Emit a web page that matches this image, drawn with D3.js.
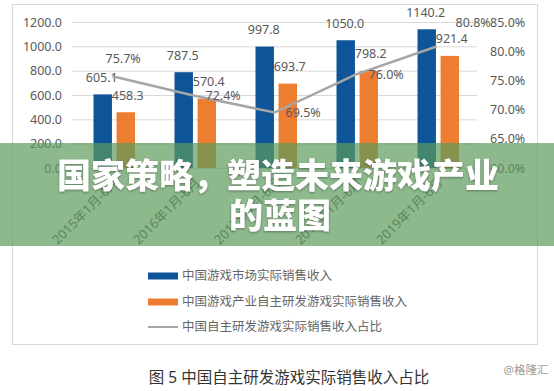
<!DOCTYPE html>
<html><head><meta charset="utf-8">
<script src="https://cdn.jsdelivr.net/npm/d3@7"></script>
<style>body{margin:0;background:#fff;} svg{display:block}</style>
</head><body><svg id="c" width="554" height="391"></svg>
<script>
const categories = ["2015年1月-6月","2016年1月-6月","2017年1月-6月","2018年1月-6月","2019年1月-6月"];
const marketRevenue = [605.1, 787.5, 997.8, 1050.0, 1140.2];
const selfDevRevenue = [458.3, 570.4, 693.7, 798.2, 921.4];
const selfDevShare = [75.7, 72.4, 69.5, 76.0, 80.8];
const leftTicks = [0, 200, 400, 600, 800, 1000, 1200];
const rightTicks = [60, 65, 70, 75, 80, 85];
const seriesNames = ["中国游戏市场实际销售收入", "中国游戏产业自主研发游戏实际销售收入", "中国自主研发游戏实际销售收入占比"];
const titleLines = ["国家策略，塑造未来游戏产业", "的蓝图"];
const caption = "图 5 中国自主研发游戏实际销售收入占比";
const credit = "@格隆汇";
// label nudges for the percentage labels (dx, dy from point)
const shareLabelShift = [[-7,-18],[12,0],[11,0],[13,0],[19,-24]];

const svg = d3.select("#c");
const FONT = "'Noto Sans','Noto Sans CJK SC',sans-serif";
const TXT = "#595959";
const BLUE = "#0e5499", ORANGE = "#ed7d31", GRAY = "#a6a6a6";

// outer frame
svg.append("rect").attr("x", 12.5).attr("y", 4.5).attr("width", 525).attr("height", 340)
  .attr("fill", "#fff").attr("stroke", "#d9d9d9").attr("stroke-width", 1);

const x = d3.scaleBand().domain(categories).range([72, 477]);
const x1 = d3.scaleBand().domain(["m", "s"]).range([21.5, 63]).paddingInner(0.2);
const y = d3.scaleLinear().domain([0, 1200]).range([168, 22]);
const y2 = d3.scaleLinear().domain([60, 85]).range([168, 22]);

// gridlines
svg.append("g").selectAll("line").data(leftTicks).join("line")
  .attr("x1", 72).attr("x2", 477).attr("y1", d => y(d) + 0.5).attr("y2", d => y(d) + 0.5)
  .attr("stroke", "#d9d9d9").attr("stroke-width", 1);

// left axis
const ga = svg.append("g").attr("transform", "translate(72,0)")
  .call(d3.axisLeft(y).tickValues(leftTicks).tickFormat(d => d.toFixed(1)).tickSize(0).tickPadding(10));
ga.select(".domain").remove();
ga.selectAll("text").attr("font-family", FONT).attr("font-size", 12.5).attr("fill", TXT);

// right axis
const gr = svg.append("g").attr("transform", "translate(477,0)")
  .call(d3.axisRight(y2).tickValues(rightTicks).tickFormat(d => d.toFixed(1) + "%").tickSize(0).tickPadding(13));
gr.select(".domain").remove();
gr.selectAll("text").attr("font-family", FONT).attr("font-size", 12.5).attr("fill", TXT);

// x axis labels
svg.append("g").selectAll("text").data(categories).join("text")
  .attr("transform", d => `translate(${x(d) + x.bandwidth() / 2 + 4},${180}) rotate(-45)`)
  .attr("text-anchor", "end").attr("dy", "0.35em")
  .attr("font-family", FONT).attr("font-size", 13).attr("fill", TXT).text(d => d);

// orange bars
svg.append("g").selectAll("rect").data(selfDevRevenue).join("rect")
  .attr("x", (d, i) => x(categories[i]) + x1("s")).attr("width", x1.bandwidth())
  .attr("y", d => y(d)).attr("height", d => y(0) - y(d)).attr("fill", ORANGE);
// orange labels (under blue bars)
svg.append("g").selectAll("text").data(selfDevRevenue).join("text")
  .attr("x", (d, i) => x(categories[i]) + x1("s") + x1.bandwidth() / 2 + 2)
  .attr("y", d => y(d) - 17).attr("dy", "0.35em").attr("text-anchor", "middle")
  .attr("font-family", FONT).attr("font-size", 12.5).attr("fill", TXT).text(d => d.toFixed(1));

// blue bars
svg.append("g").selectAll("rect").data(marketRevenue).join("rect")
  .attr("x", (d, i) => x(categories[i]) + x1("m")).attr("width", x1.bandwidth())
  .attr("y", d => y(d)).attr("height", d => y(0) - y(d)).attr("fill", BLUE);
svg.append("g").selectAll("text").data(marketRevenue).join("text")
  .attr("x", (d, i) => x(categories[i]) + x1("m") + x1.bandwidth() / 2 - 1)
  .attr("y", d => y(d) - 17).attr("dy", "0.35em").attr("text-anchor", "middle")
  .attr("font-family", FONT).attr("font-size", 12.5).attr("fill", TXT).text(d => d.toFixed(1));

// share line
const line = d3.line().x((d, i) => x(categories[i]) + x.bandwidth() / 2).y(d => y2(d));
svg.append("path").datum(selfDevShare).attr("d", line)
  .attr("fill", "none").attr("stroke", GRAY).attr("stroke-width", 2.5);
svg.append("g").selectAll("text").data(selfDevShare).join("text")
  .attr("x", (d, i) => x(categories[i]) + x.bandwidth() / 2 + shareLabelShift[i][0])
  .attr("y", (d, i) => y2(d) + shareLabelShift[i][1]).attr("dy", "0.35em")
  .attr("font-family", FONT).attr("font-size", 12.5).attr("fill", TXT).text(d => d.toFixed(1) + "%");

// legend
const legY = [276, 302, 327];
const lg = svg.append("g");
seriesNames.forEach((n, i) => {
  if (i < 2) lg.append("rect").attr("x", 148).attr("y", legY[i] - 3.5).attr("width", 30).attr("height", 7)
    .attr("fill", i === 0 ? BLUE : ORANGE);
  else lg.append("line").attr("x1", 148).attr("x2", 178).attr("y1", legY[i]).attr("y2", legY[i])
    .attr("stroke", GRAY).attr("stroke-width", 2);
  lg.append("text").attr("x", 182).attr("y", legY[i]).attr("dy", "0.35em")
    .attr("font-family", FONT).attr("font-size", 12.5).attr("fill", "#666").text(n);
});

// caption and credit
svg.append("text").attr("x", 289).attr("y", 378).attr("dy", "0.35em").attr("text-anchor", "middle")
  .attr("font-family", FONT).attr("font-size", 15.5).attr("fill", "#333").text(caption);
svg.append("text").attr("x", 526).attr("y", 370).attr("dy", "0.35em").attr("text-anchor", "middle")
  .attr("font-family", FONT).attr("font-size", 11.5).attr("fill", "#9a9a9a").text(credit);

// title band overlay
svg.append("rect").attr("x", 0).attr("y", 143).attr("width", 554).attr("height", 103)
  .attr("fill", "rgb(92,155,92)").attr("fill-opacity", 0.7);
const tg = svg.append("g").attr("font-family", "'Noto Sans CJK SC',sans-serif").attr("font-weight", 900)
  .attr("font-size", 34).attr("fill", "#fff").attr("text-anchor", "middle");
tg.append("text").attr("x", 278).attr("y", 176).attr("dy", "0.35em").text(titleLines[0])
  .style("filter", "drop-shadow(0 1px 1px rgba(0,0,0,0.35))");
tg.append("text").attr("x", 280).attr("y", 216).attr("dy", "0.35em").text(titleLines[1])
  .style("filter", "drop-shadow(0 1px 1px rgba(0,0,0,0.35))");
</script></body></html>
